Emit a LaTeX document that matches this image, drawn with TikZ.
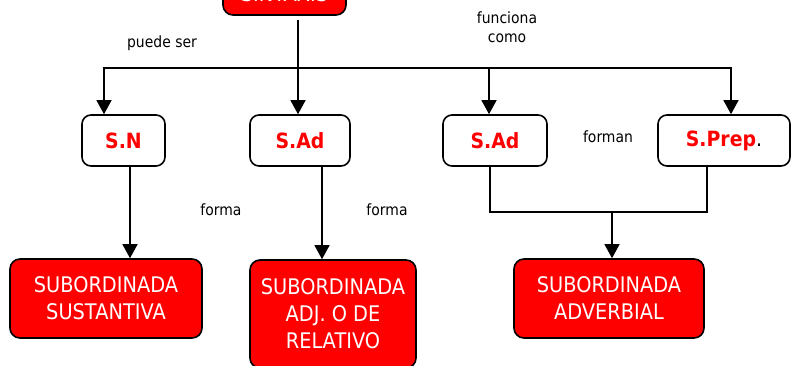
\documentclass[tikz,border=0pt]{standalone}
\usepackage{fontspec}
\setmainfont{DejaVu Sans}[FakeStretch=0.9]
\usetikzlibrary{arrows.meta}
\begin{document}
\begin{tikzpicture}[x=1pt,y=-1pt,
 redbox/.style={draw=black, line width=1.6pt, fill=red, rounded corners=10pt, text=white,
   font=\fontsize{21.5}{27}\selectfont, align=center, inner sep=0pt},
 whitebox/.style={draw=black, line width=1.6pt, fill=white, rounded corners=9pt, text=red,
   font=\fontsize{21}{24}\bfseries\selectfont, inner sep=0pt, minimum height=51pt},
 lbl/.style={font=\fontsize{15.5}{19}\selectfont, align=center, inner sep=0pt},
 conn/.style={line width=1.3pt},
 arr/.style={conn, -{Triangle[width=15pt,length=14pt]}}]
\clip (0,0) rectangle (794,366);
% top box
\node[redbox, minimum width=123pt, minimum height=60pt] (top) at (284.5,-15) {};
\node[anchor=base, text=white, font=\fontsize{21.5}{27}\selectfont, inner sep=0pt] (toptext) at (284.5,1.5) {SINTAXIS};
% middle boxes
\node[whitebox, minimum width=83pt] (sn) at (123.5,140.5) {S.N};
\node[whitebox, minimum width=100pt] (sad1) at (300,140.5) {S.Ad};
\node[whitebox, minimum width=104pt] (sad2) at (495,140.5) {S.Ad};
\node[whitebox, minimum width=132pt] (sprep) at (724,140.5) {S.Prep{\mdseries\color{black}.}};
% bottom boxes
\node[redbox, minimum width=192pt, minimum height=79pt] (sust) at (106,298.5) {SUBORDINADA\\SUSTANTIVA};
\node[redbox, minimum width=166pt, minimum height=108pt] (adj) at (333,314) {SUBORDINADA\\ADJ. O DE\\RELATIVO};
\node[redbox, minimum width=190pt, minimum height=79pt] (adv) at (609,298.5) {SUBORDINADA\\ADVERBIAL};
% labels
\node[lbl] (l1) at (162,43) {puede ser};
\node[lbl] (l2) at (507,27) {funciona\\como};
\node[lbl] (l3) at (608,137) {forman};
\node[lbl] (l4) at (221,210) {forma};
\node[lbl] (l5) at (387,210) {forma};
% connectors
\coordinate (hl) at (104,68);
\coordinate (hr) at (731,68);
\coordinate (j) at (298,68);
\coordinate (k) at (489,68);
\draw[conn] ([yshift=-4pt]top.south -| j) -- (j);
\draw[arr] (hr) -- (hl) -- (sn.north -| hl);
\draw[arr] (hl) -- (hr) -- (sprep.north -| hr);
\draw[arr] (j) -- (sad1.north -| j);
\draw[arr] (k) -- (sad2.north -| k);
\coordinate (a1) at (130,250);
\coordinate (a2) at (322,250);
\draw[arr] (sn.south -| a1) -- (sust.north -| a1);
\draw[arr] (sad1.south -| a2) -- (adj.north -| a2);
\coordinate (b1) at (490,212);
\coordinate (b2) at (707,212);
\coordinate (m) at (612,212);
\draw[conn] (sad2.south -| b1) -- (b1) -- (b2) -- (sprep.south -| b2);
\draw[arr] (m) -- (adv.north -| m);
\end{tikzpicture}
\end{document}
